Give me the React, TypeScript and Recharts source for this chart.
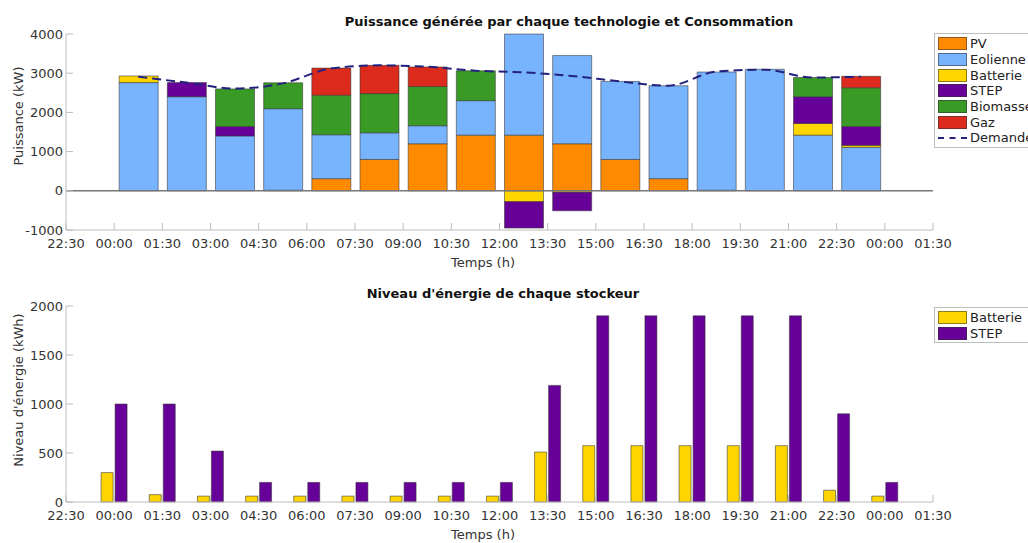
import React from "react";
import {
  Bar,
  BarChart,
  ComposedChart,
  Line,
  ReferenceLine,
  XAxis,
  YAxis,
} from "recharts";

// axis labels, one per tick (0..18)
const tickLabels = [
  "22:30", "00:00", "01:30", "03:00", "04:30", "06:00", "07:30", "09:00", "10:30",
  "12:00", "13:30", "15:00", "16:30", "18:00", "19:30", "21:00", "22:30", "00:00", "01:30",
];

// puissance (kW) par intervalle de 1h30, de 00:00 a 00:00
const pv = [0, 0, 0, 15, 310, 800, 1200, 1420, 1420, 1200, 800, 310, 15, 0, 0, 0];
const eolienne = [2760, 2400, 1400, 2080, 1120, 680, 460, 880, 2580, 2250, 1990, 2370, 3015, 3100, 1420, 1110];
const batterie = [170, 0, 0, 0, 0, 0, 0, 0, -280, -40, 0, 0, 0, 0, 300, 50];
const step = [0, 360, 240, 0, 0, 0, 0, 0, -670, -470, 0, 0, 0, 0, 680, 480];
const biomasse = [0, 0, 960, 660, 1010, 1000, 1000, 760, 0, 0, 0, 0, 0, 0, 490, 990];
const gaz = [0, 0, 0, 0, 690, 720, 500, 0, 0, 0, 0, 0, 0, 0, 0, 290];
const demande = [2910, 2760, 2610, 2740, 3120, 3200, 3165, 3065, 3020, 2930, 2790, 2680, 3040, 3090, 2890, 2910];

// niveau d'energie (kWh) a chaque instant, de 00:00 a 00:00
const niveauBatterie = [300, 75, 60, 60, 60, 60, 60, 60, 60, 510, 575, 575, 575, 575, 575, 120, 60];
const niveauStep = [1000, 1000, 520, 200, 200, 200, 200, 200, 200, 1190, 1900, 1900, 1900, 1900, 1900, 900, 200];

const C = {
  pv: "#ff8a00",
  eol: "#78b4fd",
  bat: "#ffd500",
  step: "#660099",
  bio: "#3a9a26",
  gaz: "#dc2a1c",
  dem: "#22227e",
};

const powerData = pv.map((v, i) => ({
  x: i + 1.5,
  pv: v,
  eolienne: eolienne[i],
  batterie: batterie[i],
  step: step[i],
  biomasse: biomasse[i],
  gaz: gaz[i],
  demande: demande[i],
}));

const levelData = niveauBatterie.map((v, i) => ({
  x: i + 1,
  batterie: v,
  step: niveauStep[i],
}));

const xTicks = tickLabels.map((_, i) => i);
const fmtX = (v: number) => tickLabels[v] ?? "";

const FRAME = "#bdbdbd";
const FONT = "'DejaVu Sans', Verdana, sans-serif";
const tickStyle = { fill: "#333", fontSize: 13, fontFamily: FONT };
const barEdge = { stroke: "#333", strokeOpacity: 0.55, strokeWidth: 1 };

function Legend({ top, items }: { top: number; items: { name: string; color: string; line?: boolean }[] }) {
  return (
    <div
      style={{
        position: "absolute",
        left: 934,
        top,
        width: 120,
        border: `1px solid ${FRAME}`,
        background: "#fff",
        padding: "2px 0 1px 0",
        fontFamily: FONT,
        fontSize: 13,
        color: "#222",
      }}
    >
      {items.map((it) => (
        <div key={it.name} style={{ display: "flex", alignItems: "center", height: 15.7 }}>
          {it.line ? (
            <div style={{ width: 29, marginLeft: 3, borderTop: `2px dashed ${it.color}` }} />
          ) : (
            <div
              style={{
                width: 27,
                height: 11,
                marginLeft: 3,
                background: it.color,
                border: "1px solid rgba(50,50,50,0.55)",
              }}
            />
          )}
          <span style={{ marginLeft: 3 }}>{it.name}</span>
        </div>
      ))}
    </div>
  );
}

const Text = ({ x, y, children, bold, rotate }: any) => (
  <div
    style={{
      position: "absolute",
      left: x,
      top: y,
      transform: `translate(-50%, -50%)${rotate ? " rotate(-90deg)" : ""}`,
      whiteSpace: "nowrap",
      fontFamily: FONT,
      fontSize: 13,
      fontWeight: bold ? 700 : 400,
      color: bold ? "#111" : "#333",
    }}
  >
    {children}
  </div>
);

export default function App() {
  return (
    <div
      style={{
        position: "absolute",
        left: 0,
        top: 0,
        width: 1028,
        height: 543,
        overflow: "hidden",
        background: "#fff",
      }}
    >
      <div style={{ position: "absolute", left: 0, top: 0 }}>
        <ComposedChart
          width={1028}
          height={275}
          data={powerData}
          stackOffset="sign"
          margin={{ top: 34, right: 95, left: 16, bottom: 15 }}
        >
          <XAxis
            dataKey="x"
            type="number"
            domain={[0, 18]}
            ticks={xTicks}
            tickFormatter={fmtX}
            interval={0}
            height={30}
            tickSize={-7}
            tickMargin={16}
            tick={tickStyle}
            stroke={FRAME}
          />
          <XAxis
            xAxisId="top"
            orientation="top"
            type="number"
            domain={[0, 18]}
            ticks={xTicks}
            height={0}
            tickSize={-7}
            tick={false}
            stroke={FRAME}
          />
          <YAxis
            type="number"
            domain={[-1000, 4000]}
            ticks={[-1000, 0, 1000, 2000, 3000, 4000]}
            width={50}
            tickSize={-7}
            tickMargin={10}
            tick={tickStyle}
            stroke={FRAME}
          />
          <YAxis
            yAxisId="right"
            orientation="right"
            type="number"
            domain={[-1000, 4000]}
            ticks={[-1000, 0, 1000, 2000, 3000, 4000]}
            width={0}
            tickSize={-7}
            tick={false}
            stroke={FRAME}
          />
          <Bar dataKey="pv" stackId="a" fill={C.pv} barSize={39} {...barEdge} isAnimationActive={false} />
          <Bar dataKey="eolienne" stackId="a" fill={C.eol} barSize={39} {...barEdge} isAnimationActive={false} />
          <Bar dataKey="batterie" stackId="a" fill={C.bat} barSize={39} {...barEdge} isAnimationActive={false} />
          <Bar dataKey="step" stackId="a" fill={C.step} barSize={39} {...barEdge} isAnimationActive={false} />
          <Bar dataKey="biomasse" stackId="a" fill={C.bio} barSize={39} {...barEdge} isAnimationActive={false} />
          <Bar dataKey="gaz" stackId="a" fill={C.gaz} barSize={39} {...barEdge} isAnimationActive={false} />
          <ReferenceLine y={0} stroke="#777" strokeWidth={1.5} />
          <Line
            dataKey="demande"
            type="monotone"
            stroke={C.dem}
            strokeWidth={2}
            strokeDasharray="9 5"
            dot={false}
            isAnimationActive={false}
          />
        </ComposedChart>
      </div>

      <div style={{ position: "absolute", left: 0, top: 272 }}>
        <BarChart
          width={1028}
          height={271}
          data={levelData}
          barGap={2}
          margin={{ top: 34, right: 95, left: 16, bottom: 11 }}
        >
          <XAxis
            dataKey="x"
            type="number"
            domain={[0, 18]}
            ticks={xTicks}
            tickFormatter={fmtX}
            interval={0}
            height={30}
            tickSize={-7}
            tickMargin={16}
            tick={tickStyle}
            stroke={FRAME}
          />
          <XAxis
            xAxisId="top"
            orientation="top"
            type="number"
            domain={[0, 18]}
            ticks={xTicks}
            height={0}
            tickSize={-7}
            tick={false}
            stroke={FRAME}
          />
          <YAxis
            type="number"
            domain={[0, 2000]}
            ticks={[0, 500, 1000, 1500, 2000]}
            width={50}
            tickSize={-7}
            tickMargin={10}
            tick={tickStyle}
            stroke={FRAME}
          />
          <YAxis
            yAxisId="right"
            orientation="right"
            type="number"
            domain={[0, 2000]}
            ticks={[0, 500, 1000, 1500, 2000]}
            width={0}
            tickSize={-7}
            tick={false}
            stroke={FRAME}
          />
          <Bar dataKey="batterie" fill={C.bat} barSize={12} {...barEdge} isAnimationActive={false} />
          <Bar dataKey="step" fill={C.step} barSize={12} {...barEdge} isAnimationActive={false} />
        </BarChart>
      </div>

      <Text x={569} y={21} bold>
        Puissance générée par chaque technologie et Consommation
      </Text>
      <Text x={18} y={116} rotate>
        Puissance (kW)
      </Text>
      <Text x={483} y={262}>Temps (h)</Text>

      <Text x={503} y={293} bold>
        Niveau d'énergie de chaque stockeur
      </Text>
      <Text x={18} y={390} rotate>
        Niveau d'énergie (kWh)
      </Text>
      <Text x={483} y={534}>Temps (h)</Text>

      <Legend
        top={33}
        items={[
          { name: "PV", color: C.pv },
          { name: "Eolienne", color: C.eol },
          { name: "Batterie", color: C.bat },
          { name: "STEP", color: C.step },
          { name: "Biomasse", color: C.bio },
          { name: "Gaz", color: C.gaz },
          { name: "Demande", color: C.dem, line: true },
        ]}
      />
      <Legend
        top={307}
        items={[
          { name: "Batterie", color: C.bat },
          { name: "STEP", color: C.step },
        ]}
      />
    </div>
  );
}
